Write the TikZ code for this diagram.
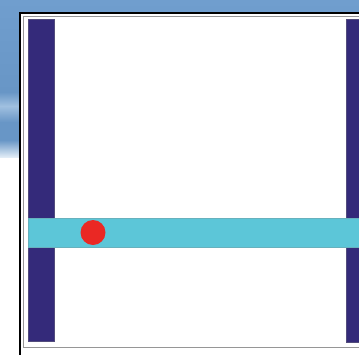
\documentclass[tikz,border=0pt]{standalone}
\usetikzlibrary{shadings}
\definecolor{navy}{RGB}{52,42,122}
\definecolor{cyanbar}{RGB}{92,198,216}
\definecolor{reddot}{RGB}{234,40,36}
\definecolor{bgtop}{RGB}{112,158,206}
\definecolor{bgmid}{RGB}{104,150,198}
\definecolor{bglight}{RGB}{160,192,224}
\definecolor{bgfade}{RGB}{225,236,246}
\definecolor{framegray}{RGB}{150,150,150}
\tikzset{
  bar/.style={fill=navy, draw=navy!60!gray, line width=0.6pt},
  rail/.style={fill=cyanbar, draw=cyanbar!70!gray, line width=0.6pt},
}
\begin{document}
\begin{tikzpicture}[x=1pt,y=-1pt]
\useasboundingbox (0,0) rectangle (359,354);
\fill[white] (0,0) rectangle (359,354);
\shade[top color=bgtop, bottom color=bgmid] (0,0) rectangle (359,92);
\shade[top color=bgmid, bottom color=bglight] (0,92) rectangle (359,106);
\shade[top color=bglight, bottom color=bgmid] (0,106) rectangle (359,122);
\fill[bgmid] (0,122) rectangle (359,140);
\shade[top color=bgmid, bottom color=bgfade] (0,140) rectangle (359,157);
\fill[white] (19,12) rectangle (362,358);
\draw[black, line width=1.6pt] (19.8,360) -- (19.8,12.8) -- (362,12.8);
\draw[framegray, line width=1pt] (362,347.5) -- (23,347.5) -- (23,16.5) -- (362,16.5);
\node[bar, minimum width=26pt, minimum height=322pt, inner sep=0pt, anchor=north west] (lbar) at (28,19) {};
\node[bar, minimum width=20pt, minimum height=323pt, inner sep=0pt, anchor=north west] (rbar) at (346,19) {};
\node[rail, minimum width=340pt, minimum height=29pt, inner sep=0pt, anchor=north west] (rail) at (28,218) {};
\node[circle, fill=reddot, minimum size=25pt, inner sep=0pt] (dot) at (93,232.5) {};
\end{tikzpicture}
\end{document}
